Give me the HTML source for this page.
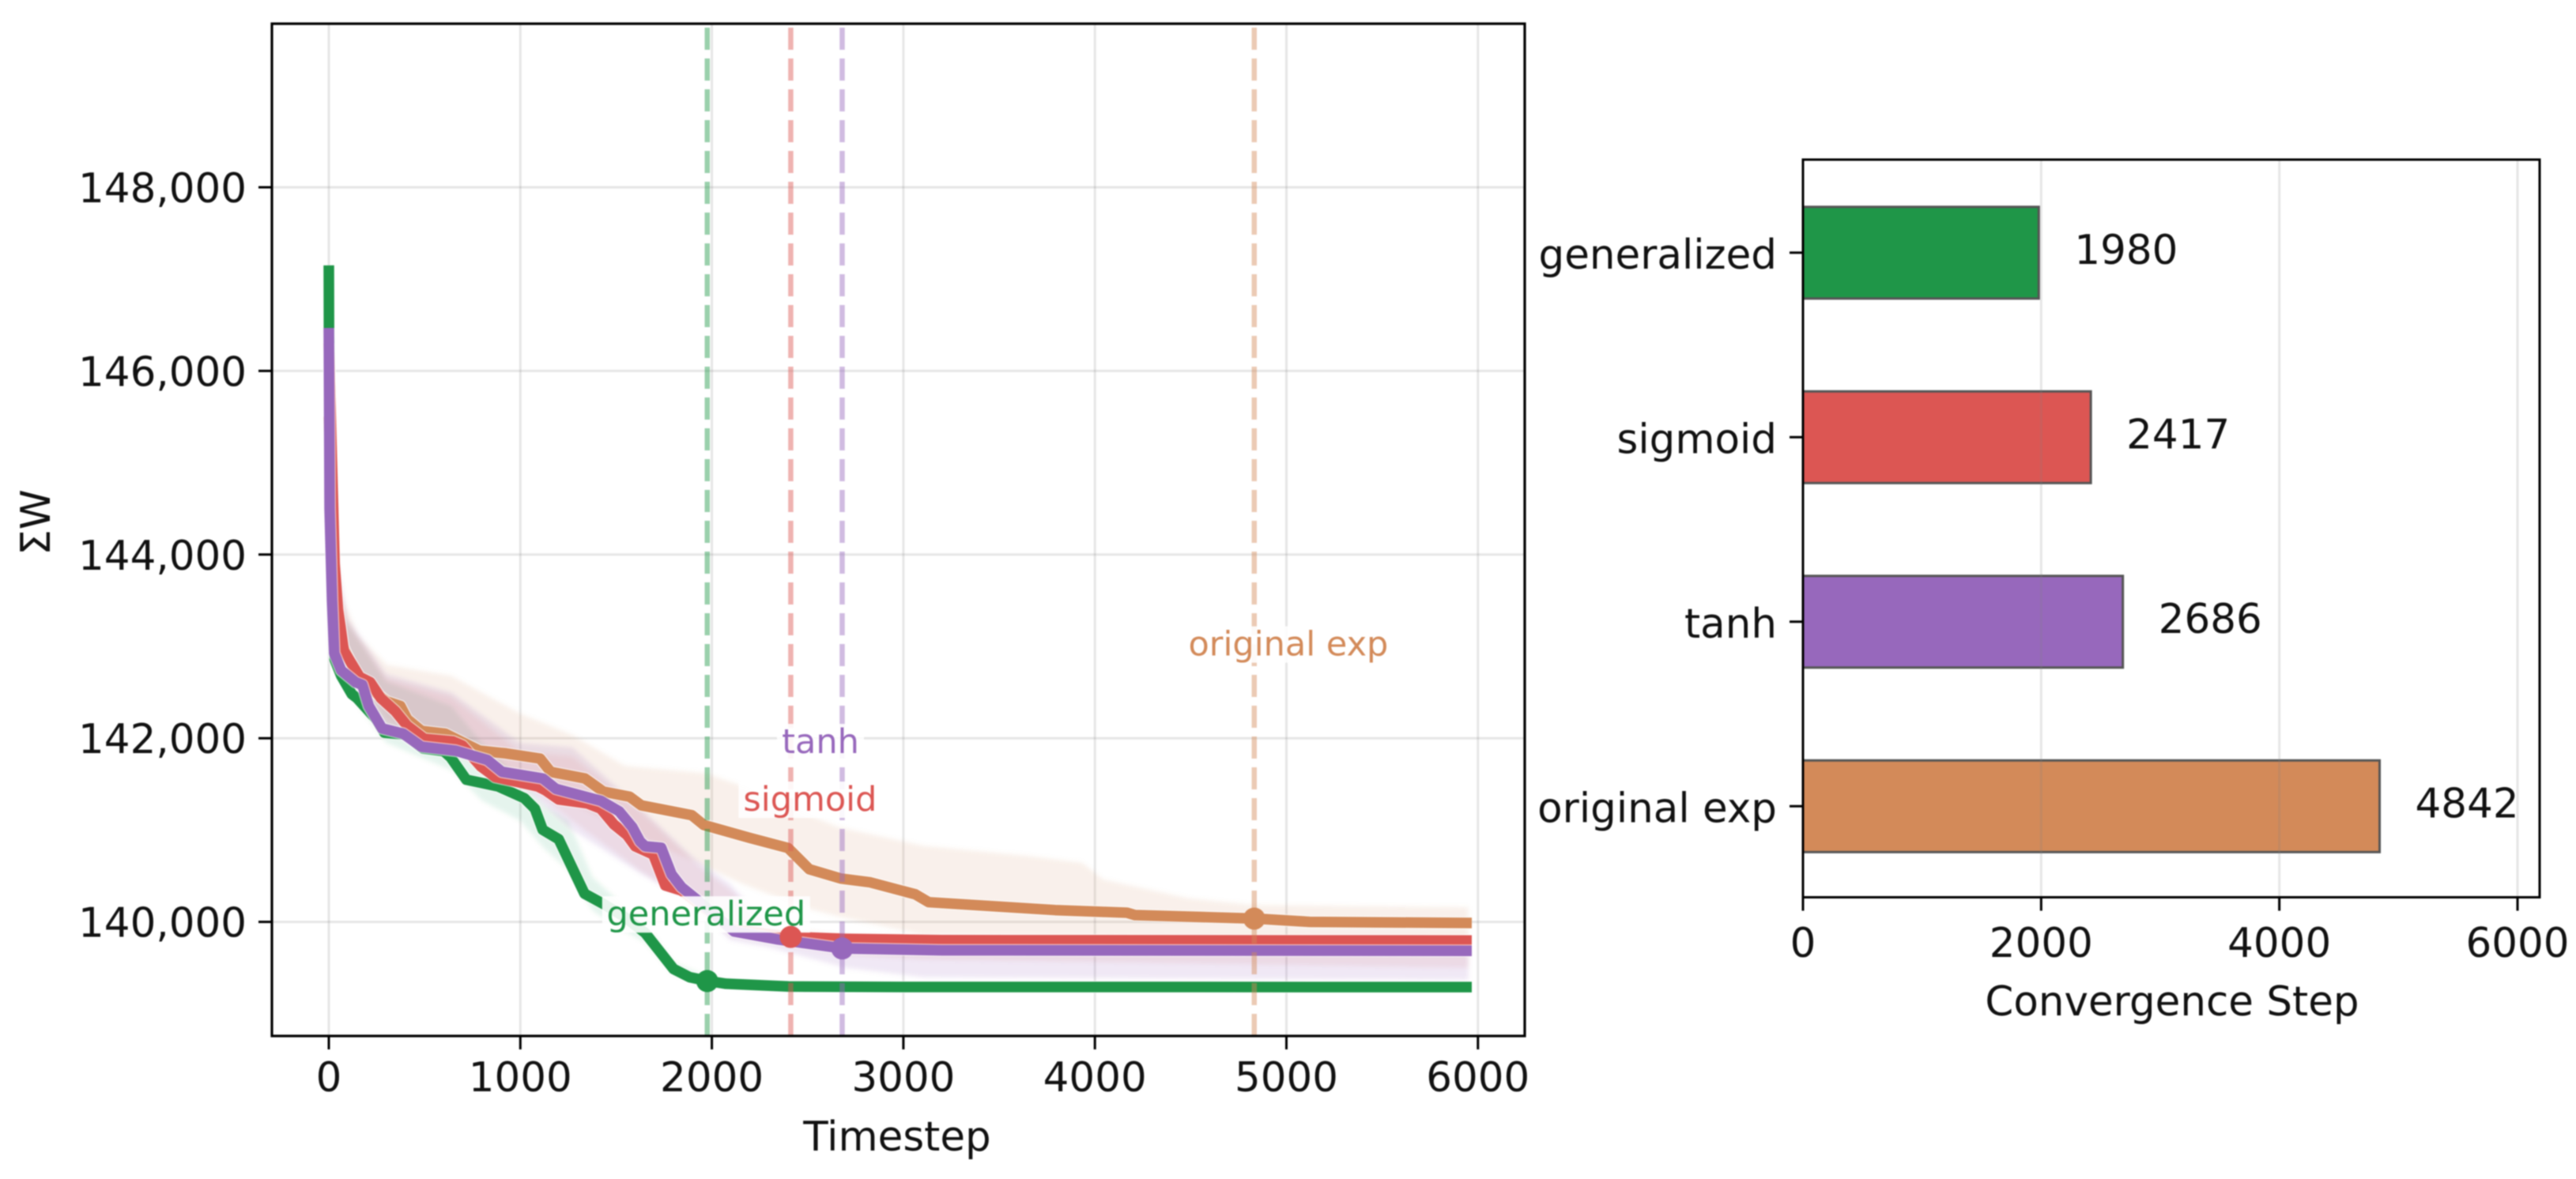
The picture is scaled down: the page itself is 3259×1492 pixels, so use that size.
<!DOCTYPE html>
<html lang="en">
<head>
<meta charset="utf-8">
<title>Convergence comparison</title>
<style>
html,body{margin:0;padding:0;background:#fff;}
#stage{display:block;width:3259px;height:1492px;filter:blur(0.8px);font-family:"DejaVu Sans","Liberation Sans",sans-serif;}
</style>
</head>
<body>
<svg id="stage" xmlns="http://www.w3.org/2000/svg" width="3259" height="1492" viewBox="0 0 3259 1492"></svg>
<script>
// ---- categories and shared values ----
const seriesNames = ['generalized', 'sigmoid', 'tanh', 'original exp'];
const seriesColors = ['#1f9648', '#dc5653', '#9768bc', '#d38a59'];
const convergenceSteps = [1980, 2417, 2686, 4842];

// ---- tick labels ----
const leftXTicks = [0, 1000, 2000, 3000, 4000, 5000, 6000];
const leftYTicks = [140000, 142000, 144000, 146000, 148000];
const rightXTicks = [0, 2000, 4000, 6000];

// ---- annotation anchors in data units ----
const labelX = [1970, 2513, 2567, 5010];
const labelY = [139960, 141210, 141838, 142900];

// ---- generalized mean curve ----
const genT = [0, 1, 30, 65, 120, 147, 250, 290, 400, 490, 600, 636, 718, 883, 1021, 1076, 1117, 1200, 1335, 1430, 1540, 1652, 1800, 1884, 1980, 2074, 2400, 3000, 5968];
const genW = [147150, 146400, 142860, 142680, 142480, 142437, 142200, 142060, 142040, 141890, 141860, 141792, 141548, 141476, 141347, 141232, 141003, 140900, 140307, 140200, 140060, 139879, 139487, 139398, 139355, 139326, 139296, 139291, 139290];
// ---- sigmoid mean curve ----
const sigT = [0, 30, 48, 62, 78, 120, 161, 216, 271, 347, 409, 498, 649, 697, 794, 869, 1090, 1131, 1200, 1351, 1420, 1489, 1557, 1600, 1694, 1757, 1842, 1930, 2116, 2417, 2700, 3200, 5968];
const sigW = [146300, 143900, 143400, 143200, 142954, 142810, 142667, 142610, 142437, 142294, 142136, 141993, 141964, 141921, 141692, 141577, 141476, 141433, 141333, 141290, 141232, 141060, 140945, 140823, 140734, 140396, 140342, 140200, 139915, 139836, 139815, 139800, 139797];
// ---- tanh mean curve ----
const tanT = [0, 4, 17, 28, 65, 140, 175, 209, 278, 388, 484, 663, 828, 904, 1117, 1186, 1420, 1516, 1585, 1625, 1652, 1736, 1789, 1842, 1926, 2116, 2348, 2686, 3200, 5968];
const tanW = [146468, 144500, 143499, 142925, 142739, 142610, 142581, 142351, 142107, 142050, 141907, 141864, 141763, 141634, 141562, 141448, 141318, 141204, 141032, 140877, 140823, 140806, 140520, 140378, 140235, 139896, 139807, 139710, 139690, 139685];
// ---- original exp mean curve ----
const expT = [0, 30, 74, 154, 302, 374, 409, 484, 608, 787, 925, 1103, 1158, 1337, 1433, 1571, 1631, 1895, 1958, 2200, 2398, 2509, 2674, 2827, 3062, 3132, 3793, 4167, 4209, 4842, 5122, 5968];
const expW = [145500, 143600, 143000, 142640, 142400, 142351, 142208, 142079, 142050, 141864, 141835, 141778, 141634, 141562, 141419, 141362, 141269, 141162, 141055, 140913, 140805, 140573, 140472, 140430, 140300, 140214, 140128, 140100, 140074, 140035, 140000, 139988];

// ---- uncertainty bands ----
const genBandT = [10, 100, 300, 640, 800, 1000, 1124, 1251, 1378, 1500, 1650, 1800, 1984, 2200, 5950];
const genUpper = [143600, 143250, 142620, 142350, 141950, 141550, 141280, 141100, 140485, 140250, 139990, 139560, 139400, 139320, 139310];
const genLower = [142900, 142500, 141950, 141650, 141320, 141100, 140800, 140560, 140120, 139950, 139780, 139420, 139330, 139270, 139270];
const sigBandT = [10, 100, 300, 640, 998, 1272, 1631, 1905, 2095, 2300, 2700, 3100, 5950];
const sigUpper = [144200, 143250, 142650, 142450, 141850, 141800, 141200, 140650, 140350, 139950, 139850, 139850, 139850];
const sigLower = [143000, 142750, 142120, 141850, 141550, 141100, 140550, 140200, 139850, 139780, 139640, 139590, 139500];
const tanBandT = [10, 100, 300, 640, 998, 1272, 1631, 1905, 2095, 2300, 2700, 3100, 5950];
const tanUpper = [144300, 143300, 142700, 142500, 141950, 141900, 141233, 140700, 140414, 139950, 139740, 139710, 139700];
const tanLower = [143000, 142700, 142080, 141850, 141500, 141000, 140520, 140200, 139800, 139720, 139500, 139397, 139368];
const expBandT = [10, 48, 154, 302, 640, 998, 1272, 1546, 1968, 2158, 2493, 2662, 3103, 3656, 3933, 4044, 4486, 4816, 5950];
const expUpper = [144100, 143622, 143123, 142800, 142680, 142270, 142036, 141700, 141620, 141480, 141175, 141032, 140830, 140718, 140645, 140461, 140258, 140186, 140160];
const expLower = [143000, 142860, 142650, 142200, 141900, 141600, 141300, 141000, 140600, 140414, 140150, 140057, 139860, 139855, 139850, 139850, 139845, 139835, 139830];

// ---- axis functions ----
function xL(v) { return 416 + v * 0.2423; }
function xStep(v) { return 416 + v * 0.2418; }
function yL(v) { return 1166.6 - (v - 140000) * 0.1162; }
function xR(v) { return 2281 + v * 0.15067; }
function yR(i) { return 319.8 + i * 233.5; }

const svg = document.getElementById('stage');
const NS = 'http://www.w3.org/2000/svg';
const FS = 51.5;

function mk(tag, attrs, parent) {
  const el = document.createElementNS(NS, tag);
  for (const k in attrs) el.setAttribute(k, attrs[k]);
  (parent || svg).appendChild(el);
  return el;
}
function interp(ts, vs, t) {
  for (let i = 1; i < ts.length; i++) {
    if (t <= ts[i]) return vs[i - 1] + (vs[i] - vs[i - 1]) * (t - ts[i - 1]) / (ts[i] - ts[i - 1]);
  }
  return vs[vs.length - 1];
}
function pts(ts, vs) { return ts.map(function (t, i) { return xL(t).toFixed(1) + ',' + yL(vs[i]).toFixed(1); }); }

const meanT = [genT, sigT, tanT, expT];
const meanW = [genW, sigW, tanW, expW];
const bandT = [genBandT, sigBandT, tanBandT, expBandT];
const bandU = [genUpper, sigUpper, tanUpper, expUpper];
const bandL = [genLower, sigLower, tanLower, expLower];
const slug = ['generalized', 'sigmoid', 'tanh', 'original-exp'];
const bandAlpha = [0.1, 0.1, 0.15, 0.13];
const drawOrder = [3, 0, 1, 2];

// ---- left panel ----
const L = { l: 344, r: 1929, t: 30, b: 1311 };
const R = { l: 2281, r: 3213, t: 202, b: 1135.5 };

const clip = mk('clipPath', { id: 'left-clip' });
mk('rect', { x: L.l, y: L.t, width: L.r - L.l, height: L.b - L.t }, clip);
const soft = mk('filter', { id: 'band-soft', x: '-5%', y: '-5%', width: '110%', height: '110%' });
mk('feGaussianBlur', { stdDeviation: '3' }, soft);

const leftG = mk('g', {});



const plotG = mk('g', { 'clip-path': 'url(#left-clip)' }, leftG);



leftXTicks.forEach(function (v) {
  const g = mk('line', { x1: xL(v), x2: xL(v), y1: L.t, y2: L.b, stroke: '#808080', 'stroke-opacity': 0.2, 'stroke-width': 3 }, plotG);
  
  
});
leftYTicks.forEach(function (v) {
  const g = mk('line', { x1: L.l, x2: L.r, y1: yL(v), y2: yL(v), stroke: '#808080', 'stroke-opacity': 0.2, 'stroke-width': 3 }, plotG);
  
  
});

const bandsG = mk('g', { filter: 'url(#band-soft)' }, plotG);


drawOrder.forEach(function (i) {
  const up = pts(bandT[i], bandU[i]);
  const lo = pts(bandT[i], bandL[i]).reverse();
  const band = mk('polygon', { points: up.concat(lo).join(' '), fill: seriesColors[i], 'fill-opacity': bandAlpha[i] }, bandsG);
  
  
});
drawOrder.forEach(function (i) {
  const p = pts(meanT[i], meanW[i]).join(' ');
  const halo = mk('polyline', { points: p, fill: 'none', stroke: '#fff', 'stroke-opacity': 0.6, 'stroke-width': 16, 'stroke-linejoin': 'round' }, plotG);
  
  
  const line = mk('polyline', { points: p, fill: 'none', stroke: seriesColors[i], 'stroke-width': 13.5, 'stroke-linejoin': 'round' }, plotG);
  
  
});
convergenceSteps.forEach(function (s, i) {
  const v = mk('line', { x1: xStep(s), x2: xStep(s), y1: L.b, y2: L.t, stroke: seriesColors[i], 'stroke-opacity': 0.45, 'stroke-width': 6.5, 'stroke-dasharray': '28 11' }, plotG);
  
  
});
const labelSize = 43;
const labelW = [251, 169, 98, 254];
seriesNames.forEach(function (n, i) {
  const cx = xL(labelX[i]);
  const cy = yL(labelY[i]);
  const bg = mk('rect', { x: cx - labelW[i] / 2 - 6, y: cy - 37, width: labelW[i] + 12, height: 46, fill: '#fff', 'fill-opacity': 0.9 }, plotG);
  
  
  const t = mk('text', { x: cx, y: cy, 'text-anchor': 'middle', 'font-size': labelSize, fill: seriesColors[i] }, plotG);
  
  
  t.textContent = n;
});
convergenceSteps.forEach(function (s, i) {
  const c = mk('circle', { cx: xStep(s), cy: yL(interp(meanT[i], meanW[i], s)), r: 14, fill: seriesColors[i] }, plotG);
  
  
});

const lFrame = mk('rect', { x: L.l, y: L.t, width: L.r - L.l, height: L.b - L.t, fill: 'none', stroke: '#000', 'stroke-width': 3.2 }, leftG);



leftXTicks.forEach(function (v) {
  const m = mk('line', { x1: xL(v), x2: xL(v), y1: L.b, y2: L.b + 17, stroke: '#000', 'stroke-width': 3 }, leftG);
  
  
  const t = mk('text', { x: xL(v), y: 1381, 'text-anchor': 'middle', 'font-size': FS, fill: '#111' }, leftG);
  
  
  t.textContent = String(v);
});
leftYTicks.forEach(function (v) {
  const m = mk('line', { x1: L.l - 17, x2: L.l, y1: yL(v), y2: yL(v), stroke: '#000', 'stroke-width': 3 }, leftG);
  
  
  const t = mk('text', { x: L.l - 32, y: yL(v) + 19, 'text-anchor': 'end', 'font-size': FS, fill: '#111' }, leftG);
  
  
  t.textContent = v.toLocaleString('en-US');
});
const xTitle = mk('text', { x: 1135, y: 1456, 'text-anchor': 'middle', 'font-size': FS, fill: '#111' }, leftG);


xTitle.textContent = 'Timestep';
const yTitle = mk('text', { x: 0, y: 0, transform: 'translate(63,661) rotate(-90)', 'text-anchor': 'middle', 'font-size': FS, fill: '#111' }, leftG);


yTitle.textContent = 'ΣW';

// ---- right panel ----
const rightG = mk('g', {});



seriesNames.forEach(function (n, i) {
  const top = yR(i) - 58;
  const b = mk('rect', { x: R.l, y: top, width: xR(convergenceSteps[i]) - R.l, height: 116, fill: seriesColors[i], stroke: '#555', 'stroke-width': 3 }, rightG);
  
  
  const val = mk('text', { x: xR(convergenceSteps[i]) + 45, y: yR(i) + 14, 'font-size': FS, fill: '#111' }, rightG);
  
  
  val.textContent = String(convergenceSteps[i]);
  const tk = mk('line', { x1: R.l - 17, x2: R.l, y1: yR(i), y2: yR(i), stroke: '#000', 'stroke-width': 3 }, rightG);
  
  
  const lab = mk('text', { x: R.l - 33, y: yR(i) + 20, 'text-anchor': 'end', 'font-size': FS, fill: '#111' }, rightG);
  
  
  lab.textContent = n;
});
rightXTicks.forEach(function (v) {
  const g = mk('line', { x1: xR(v), x2: xR(v), y1: R.t, y2: R.b, stroke: '#808080', 'stroke-opacity': 0.2, 'stroke-width': 3 }, rightG);
  
  
  const m = mk('line', { x1: xR(v), x2: xR(v), y1: R.b, y2: R.b + 17, stroke: '#000', 'stroke-width': 3 }, rightG);
  
  
  const t = mk('text', { x: xR(v), y: 1211, 'text-anchor': 'middle', 'font-size': FS, fill: '#111' }, rightG);
  
  
  t.textContent = String(v);
});
const rFrame = mk('rect', { x: R.l, y: R.t, width: R.r - R.l, height: R.b - R.t, fill: 'none', stroke: '#000', 'stroke-width': 3 }, rightG);


const rTitle = mk('text', { x: 2748, y: 1285, 'text-anchor': 'middle', 'font-size': FS, fill: '#111' }, rightG);


rTitle.textContent = 'Convergence Step';
</script>
</body>
</html>
